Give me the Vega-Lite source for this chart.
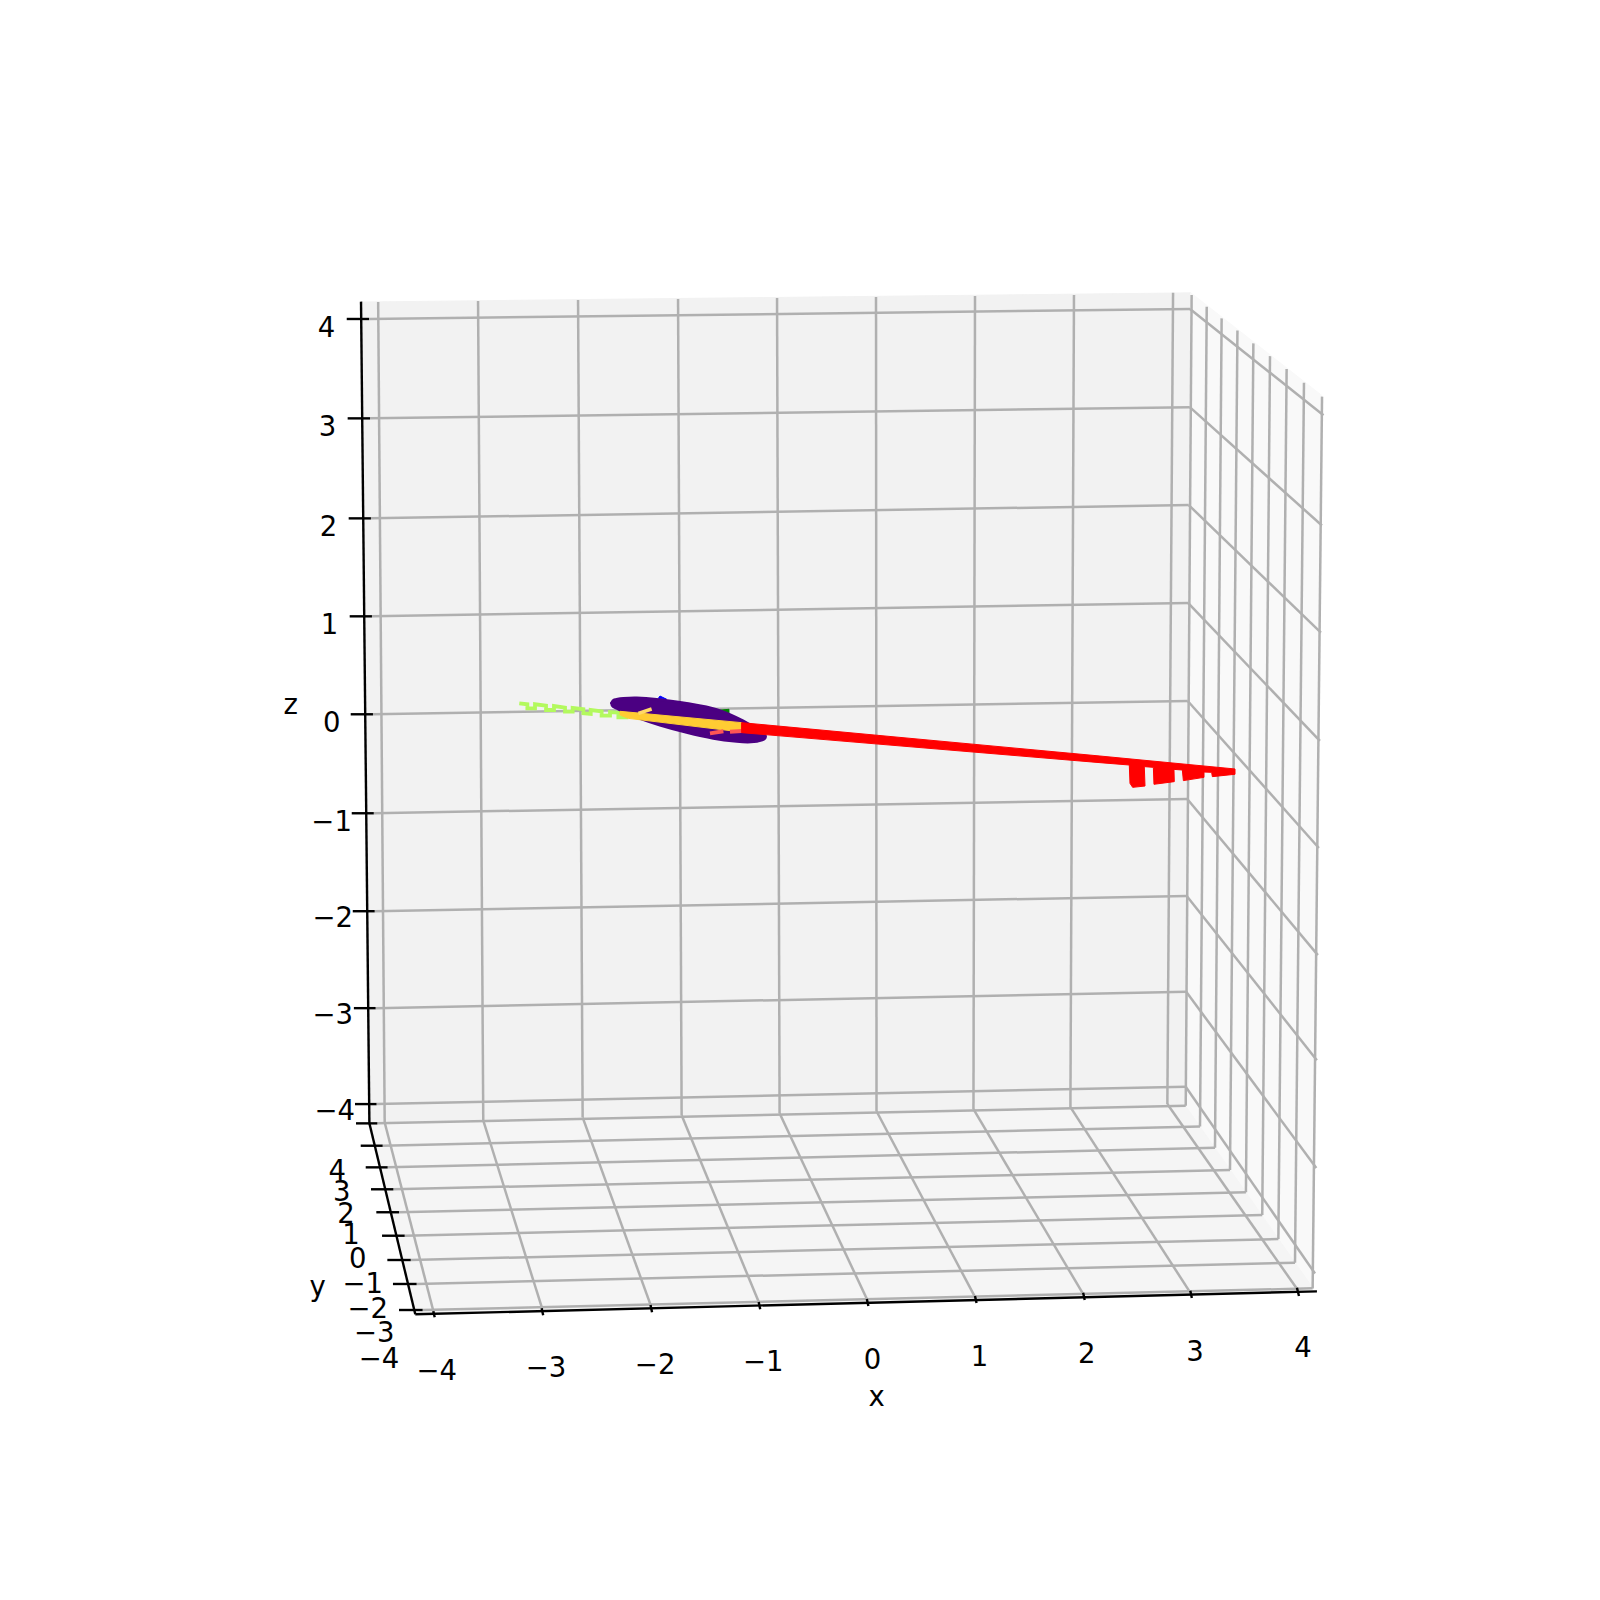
{
"$schema":"https://vega.github.io/schema/vega-lite/v6.json",
"width":1600,"height":1600,"padding":0,"autosize":{"type":"fit","contains":"padding"},
"background":"#ffffff","view":{"stroke":null},
"config":{"text":{"font":"DejaVu Sans"}},
"encoding":{
"x":{"field":"sx","type":"quantitative","scale":{"domain":[0,1568],"nice":false,"zero":false},"axis":null},
"y":{"field":"sy","type":"quantitative","scale":{"domain":[1568,0],"nice":false,"zero":false},"axis":null}},
"datasets":{
"paneBack":[{"i":0,"sx":354,"sy":296},{"i":1,"sx":1167,"sy":287},{"i":2,"sx":1162,"sy":1084},{"i":3,"sx":361,"sy":1101},{"i":4,"sx":354,"sy":296}],
"paneRight":[{"i":0,"sx":1167,"sy":287},{"i":1,"sx":1296,"sy":388},{"i":2,"sx":1287,"sy":1263},{"i":3,"sx":1162,"sy":1084},{"i":4,"sx":1167,"sy":287}],
"paneFloor":[{"i":0,"sx":361,"sy":1101},{"i":1,"sx":1162,"sy":1084},{"i":2,"sx":1287,"sy":1263},{"i":3,"sx":407,"sy":1288},{"i":4,"sx":361,"sy":1101}],
"grid":[
{"sx":361.6,"sy":312.6,"sx2":1166.2,"sy2":302.8},{"sx":362.6,"sy":410,"sx2":1166,"sy2":399},{"sx":363.5,"sy":508,"sx2":1165,"sy2":495},{"sx":364.5,"sy":604,"sx2":1164.5,"sy2":591},{"sx":365.5,"sy":700,"sx2":1164,"sy2":687},{"sx":366.3,"sy":797,"sx2":1163.5,"sy2":783},{"sx":367.2,"sy":893,"sx2":1163,"sy2":878},{"sx":368.1,"sy":988,"sx2":1162.5,"sy2":972},{"sx":369,"sy":1082,"sx2":1162,"sy2":1065},
{"sx":1166.2,"sy":302.8,"sx2":1297,"sy2":407},{"sx":1166,"sy":399,"sx2":1295.5,"sy2":515},{"sx":1165,"sy":495,"sx2":1294.5,"sy2":620},{"sx":1164.5,"sy":591,"sx2":1293.5,"sy2":726},{"sx":1164,"sy":687,"sx2":1292.5,"sy2":831},{"sx":1163.5,"sy":783,"sx2":1291.5,"sy2":936},{"sx":1163,"sy":878,"sx2":1290.5,"sy2":1039},{"sx":1162.5,"sy":972,"sx2":1290,"sy2":1144.6},{"sx":1162,"sy":1065,"sx2":1288.7,"sy2":1248},
{"sx":370.6,"sy":296,"sx2":377,"sy2":1100},{"sx":468.5,"sy":295,"sx2":473.6,"sy2":1098},{"sx":566.5,"sy":294,"sx2":571,"sy2":1095},{"sx":664.5,"sy":293,"sx2":668,"sy2":1093},{"sx":761.5,"sy":292,"sx2":764,"sy2":1091},{"sx":858.5,"sy":291,"sx2":859,"sy2":1089},{"sx":955.5,"sy":290,"sx2":954,"sy2":1087},{"sx":1052.5,"sy":289,"sx2":1049,"sy2":1085},{"sx":1149.6,"sy":287,"sx2":1144,"sy2":1082},
{"sx":377,"sy":1100,"sx2":425,"sy2":1286},{"sx":473.6,"sy":1098,"sx2":531.5,"sy2":1283},{"sx":571,"sy":1095,"sx2":638,"sy2":1280},{"sx":668,"sy":1093,"sx2":744,"sy2":1277},{"sx":764,"sy":1091,"sx2":850,"sy2":1274},{"sx":859,"sy":1089,"sx2":956,"sy2":1272},{"sx":954,"sy":1087,"sx2":1062,"sy2":1269},{"sx":1049,"sy":1085,"sx2":1166,"sy2":1266},{"sx":1144,"sy":1082,"sx2":1271,"sy2":1263},
{"sx":369.8,"sy":1100.9,"sx2":1162,"sy2":1083.6},{"sx":375,"sy":1122.8,"sx2":1176,"sy2":1104},{"sx":379.9,"sy":1144,"sx2":1190.7,"sy2":1124.7},{"sx":385.5,"sy":1165.5,"sx2":1205.4,"sy2":1146.6},{"sx":391,"sy":1188,"sx2":1221,"sy2":1168.5},{"sx":396.6,"sy":1211,"sx2":1237,"sy2":1190.7},{"sx":402.5,"sy":1234.8,"sx2":1252.8,"sy2":1214.2},{"sx":408.3,"sy":1258.3,"sx2":1269.1,"sy2":1237.5},{"sx":414.2,"sy":1283.8,"sx2":1286.4,"sy2":1262.6},
{"sx":1167.8,"sy":289,"sx2":1162,"sy2":1083.6},{"sx":1182.6,"sy":300.6,"sx2":1176,"sy2":1104},{"sx":1197.2,"sy":312,"sx2":1190.7,"sy2":1124.7},{"sx":1212.7,"sy":324,"sx2":1205.4,"sy2":1146.6},{"sx":1228.3,"sy":336.5,"sx2":1221,"sy2":1168.5},{"sx":1244.6,"sy":349,"sx2":1237,"sy2":1190.7},{"sx":1260.9,"sy":361.6,"sx2":1252.8,"sy2":1214.2},{"sx":1277.9,"sy":375,"sx2":1269.1,"sy2":1237.5},{"sx":1295.6,"sy":388.7,"sx2":1286.4,"sy2":1262.6}
],
"axes":[
{"sx":353.8,"sy":295.6,"sx2":362,"sy2":1100.8},{"sx":362,"sy":1100.8,"sx2":407,"sy2":1288},{"sx":407,"sy":1288,"sx2":1290.6,"sy2":1265.5},
{"sx":339.8,"sy":312.6,"sx2":361.6,"sy2":312.6},{"sx":340.7,"sy":410,"sx2":362.6,"sy2":410},{"sx":341.7,"sy":508,"sx2":363.5,"sy2":508},{"sx":342.7,"sy":604,"sx2":364.5,"sy2":604},{"sx":343.7,"sy":700,"sx2":365.5,"sy2":700},{"sx":344.7,"sy":797,"sx2":366.3,"sy2":797},{"sx":345.7,"sy":893,"sx2":367.2,"sy2":893},{"sx":346.8,"sy":988,"sx2":368.1,"sy2":988},{"sx":347.9,"sy":1082,"sx2":369,"sy2":1082},
{"sx":348.9,"sy":1100.9,"sx2":369.8,"sy2":1100.9},{"sx":353.5,"sy":1122.8,"sx2":375,"sy2":1122.8},{"sx":358.4,"sy":1144,"sx2":379.9,"sy2":1144},{"sx":363.6,"sy":1165.5,"sx2":385.5,"sy2":1165.5},{"sx":368.8,"sy":1188,"sx2":391,"sy2":1188},{"sx":374.4,"sy":1211,"sx2":396.6,"sy2":1211},{"sx":379.6,"sy":1234.8,"sx2":402.5,"sy2":1234.8},{"sx":385.1,"sy":1258.3,"sx2":408.3,"sy2":1258.3},{"sx":391,"sy":1283.8,"sx2":414.2,"sy2":1283.8},
{"sx":424.6,"sy":1285,"sx2":426,"sy2":1291},{"sx":530.8,"sy":1282,"sx2":532.3,"sy2":1289},{"sx":637.5,"sy":1279,"sx2":639,"sy2":1286},{"sx":743.5,"sy":1276,"sx2":745,"sy2":1283},{"sx":849.5,"sy":1273,"sx2":851,"sy2":1280},{"sx":955.5,"sy":1270,"sx2":957,"sy2":1277},{"sx":1061.5,"sy":1267,"sx2":1063,"sy2":1274},{"sx":1166.5,"sy":1265,"sx2":1168,"sy2":1272},{"sx":1271,"sy":1262,"sx2":1273,"sy2":1270}
],
"labels":[
{"t":"−4","sx":428,"sy":1342.6},{"t":"−3","sx":535,"sy":1339.8},{"t":"−2","sx":642,"sy":1337},{"t":"−1","sx":748,"sy":1334.5},{"t":"0","sx":855,"sy":1332},{"t":"1","sx":960,"sy":1329},{"t":"2","sx":1065,"sy":1326},{"t":"3","sx":1171,"sy":1324},{"t":"4","sx":1277,"sy":1321},{"t":"x","sx":859,"sy":1369},
{"t":"4","sx":320,"sy":321},{"t":"3","sx":321,"sy":418},{"t":"2","sx":322,"sy":516},{"t":"1","sx":323,"sy":612},{"t":"0","sx":325,"sy":708},{"t":"−1","sx":325,"sy":805},{"t":"−2","sx":326,"sy":899},{"t":"−3","sx":326,"sy":994},{"t":"−4","sx":328,"sy":1088},{"t":"z","sx":285,"sy":690},
{"t":"4","sx":330.6,"sy":1146.6},{"t":"3","sx":334.8,"sy":1167.2},{"t":"2","sx":339,"sy":1189},{"t":"1","sx":344,"sy":1209.4},{"t":"0","sx":350.5,"sy":1233},{"t":"−1","sx":355.4,"sy":1257.7},{"t":"−2","sx":360.3,"sy":1282},{"t":"−3","sx":366.8,"sy":1306},{"t":"−4","sx":371.4,"sy":1331},{"t":"y","sx":311.3,"sy":1261}
],
"green":[{"i":0,"sx":508.9,"sy":689.3},{"i":1,"sx":516.8,"sy":690.2},{"i":2,"sx":516.8,"sy":694.2},{"i":3,"sx":524.3,"sy":694.2},{"i":4,"sx":524.3,"sy":690.2},{"i":5,"sx":535.1,"sy":691.6},{"i":6,"sx":535.1,"sy":695.8},{"i":7,"sx":542.9,"sy":695.8},{"i":8,"sx":542.9,"sy":691.9},{"i":9,"sx":553.7,"sy":693.5},{"i":10,"sx":553.7,"sy":697.4},{"i":11,"sx":561.2,"sy":697.4},{"i":12,"sx":561.2,"sy":693.8},{"i":13,"sx":571.7,"sy":695.1},{"i":14,"sx":571.7,"sy":699.1},{"i":15,"sx":578.9,"sy":699.7},{"i":16,"sx":578.9,"sy":695.8},{"i":17,"sx":589.6,"sy":697.1},{"i":18,"sx":589.6,"sy":701.4},{"i":19,"sx":597.8,"sy":701.4},{"i":20,"sx":597.8,"sy":697.8},{"i":21,"sx":606,"sy":698.4},{"i":22,"sx":606,"sy":703},{"i":23,"sx":615.8,"sy":703}],
"blue":[{"i":0,"sx":645.2,"sy":684.4},{"i":1,"sx":646.8,"sy":682.1},{"i":2,"sx":653.3,"sy":685.3},{"i":3,"sx":645.2,"sy":684.4}],
"dgreen":[{"i":0,"sx":699,"sy":696.5},{"i":1,"sx":714.4,"sy":695.1},{"i":2,"sx":714.4,"sy":699.7},{"i":3,"sx":699,"sy":696.5}],
"blob":[{"i":0,"sx":599.5,"sy":689},{"i":1,"sx":602,"sy":686},{"i":2,"sx":611,"sy":684.5},{"i":3,"sx":624,"sy":684},{"i":4,"sx":643.5,"sy":685.5},{"i":5,"sx":672.9,"sy":689.5},{"i":6,"sx":702.3,"sy":695.5},{"i":7,"sx":728,"sy":706.5},{"i":8,"sx":747.5,"sy":718.7},{"i":9,"sx":750,"sy":722.5},{"i":10,"sx":747,"sy":725},{"i":11,"sx":736,"sy":727},{"i":12,"sx":722,"sy":726.5},{"i":13,"sx":699.1,"sy":723.5},{"i":14,"sx":672.9,"sy":717.7},{"i":15,"sx":646.8,"sy":710.5},{"i":16,"sx":627.2,"sy":704},{"i":17,"sx":610.9,"sy":697},{"i":18,"sx":601,"sy":692.5},{"i":19,"sx":599.5,"sy":689}],
"gold":[{"i":0,"sx":607.6,"sy":697.1},{"i":1,"sx":726.8,"sy":708.2},{"i":2,"sx":726.8,"sy":717.4},{"i":3,"sx":615.8,"sy":704},{"i":4,"sx":607.6,"sy":700.7},{"i":5,"sx":607.6,"sy":697.1}],
"spur":[{"sx":625.6,"sy":699.1,"sx2":638.6,"sy2":694.8}],
"pink":[{"sx":695.8,"sy":718.7,"sx2":708.9,"sy2":716.7},{"sx":715.4,"sy":717,"sx2":726.8,"sy2":716.4}],
"red":[{"i":0,"sx":726.8,"sy":708.2},{"i":1,"sx":1078,"sy":740.9},{"i":2,"sx":1210.3,"sy":753.6},{"i":3,"sx":1210.3,"sy":758.8},{"i":4,"sx":1188.1,"sy":761.1},{"i":5,"sx":1187.4,"sy":756.9},{"i":6,"sx":1179.9,"sy":756.6},{"i":7,"sx":1179.9,"sy":761.8},{"i":8,"sx":1159.7,"sy":765},{"i":9,"sx":1158.7,"sy":754.6},{"i":10,"sx":1150.5,"sy":754},{"i":11,"sx":1150.8,"sy":766},{"i":12,"sx":1130.9,"sy":768.6},{"i":13,"sx":1130.3,"sy":752},{"i":14,"sx":1121.4,"sy":751.3},{"i":15,"sx":1122.1,"sy":770.3},{"i":16,"sx":1110,"sy":771.6},{"i":17,"sx":1107.4,"sy":767.7},{"i":18,"sx":1106.7,"sy":749.7},{"i":19,"sx":1078,"sy":747.4},{"i":20,"sx":726.8,"sy":718},{"i":21,"sx":726.8,"sy":708.2}]
},
"layer":[
{"data":{"name":"paneBack"},"mark":{"type":"line","fill":"#f2f2f2","stroke":"#f2f2f2","strokeWidth":1},"encoding":{"order":{"field":"i"}}},
{"data":{"name":"paneRight"},"mark":{"type":"line","fill":"#f9f9f9","stroke":"#f9f9f9","strokeWidth":1},"encoding":{"order":{"field":"i"}}},
{"data":{"name":"paneFloor"},"mark":{"type":"line","fill":"#f5f5f5","stroke":"#f5f5f5","strokeWidth":1},"encoding":{"order":{"field":"i"}}},
{"data":{"name":"grid"},"mark":{"type":"rule","color":"#b0b0b0","strokeWidth":2.5},"encoding":{"x2":{"field":"sx2"},"y2":{"field":"sy2"}}},
{"data":{"name":"axes"},"mark":{"type":"rule","color":"#000000","strokeWidth":2.4},"encoding":{"x2":{"field":"sx2"},"y2":{"field":"sy2"}}},
{"data":{"name":"labels"},"mark":{"type":"text","font":"DejaVu Sans","fontSize":27.5,"color":"#000000","align":"center","baseline":"middle","dy":1.5},"encoding":{"text":{"field":"t"}}},
{"data":{"name":"green"},"mark":{"type":"line","stroke":"#b3f95e","strokeWidth":3.8,"strokeJoin":"miter"},"encoding":{"order":{"field":"i"}}},
{"data":{"name":"blue"},"mark":{"type":"line","fill":"#0000ff","stroke":"#0000ff","strokeWidth":1},"encoding":{"order":{"field":"i"}}},
{"data":{"name":"dgreen"},"mark":{"type":"line","fill":"#008000","stroke":"#008000","strokeWidth":1},"encoding":{"order":{"field":"i"}}},
{"data":{"name":"blob"},"mark":{"type":"line","fill":"#4b0082","stroke":"#4b0082","strokeWidth":3,"strokeJoin":"round","interpolate":"cardinal-closed"},"encoding":{"order":{"field":"i"}}},
{"data":{"name":"gold"},"mark":{"type":"line","fill":"#ffcc33","stroke":"#ffcc33","strokeWidth":1},"encoding":{"order":{"field":"i"}}},
{"data":{"name":"spur"},"mark":{"type":"rule","color":"#ffd966","strokeWidth":3.5},"encoding":{"x2":{"field":"sx2"},"y2":{"field":"sy2"}}},
{"data":{"name":"pink"},"mark":{"type":"rule","color":"#ff5555","strokeWidth":4},"encoding":{"x2":{"field":"sx2"},"y2":{"field":"sy2"}}},
{"data":{"name":"red"},"mark":{"type":"line","fill":"#ff0000","stroke":"#ff0000","strokeWidth":1},"encoding":{"order":{"field":"i"}}}
]
}
